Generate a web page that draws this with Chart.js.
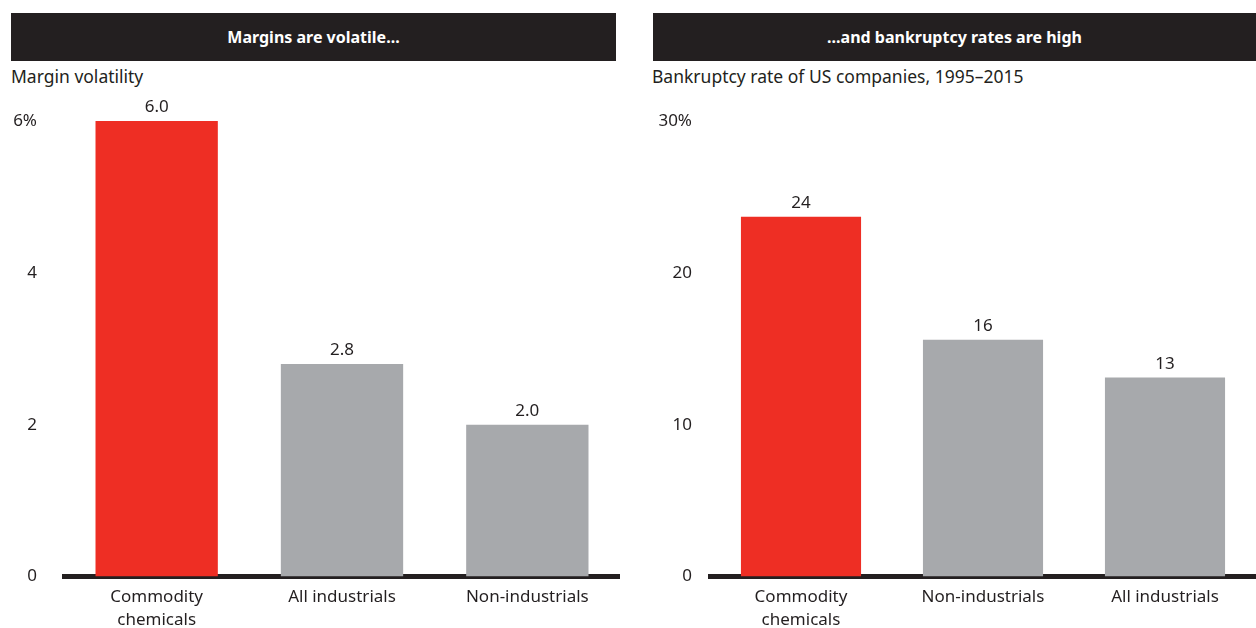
<!DOCTYPE html>
<html>
<head>
<meta charset="utf-8">
<script src="https://cdn.jsdelivr.net/npm/chart.js@4"></script>
<style>
  body { margin: 0; background: #fff; width: 1256px; height: 628px; position: relative; overflow: hidden; font-family: 'Noto Sans', sans-serif; color: #231f20; }
  .header { position: absolute; top: 13px; height: 48px; line-height: 48px; background: #231f20; color: #fff; font-weight: bold; font-size: 16px; text-align: center; }
  .subtitle { position: absolute; top: 64px; font-size: 17.5px; }
  .panel { position: absolute; top: 90px; height: 538px; }
</style>
</head>
<body>
<div class="header" style="left:11px;width:605px">Margins are volatile...</div>
<div class="subtitle" style="left:11px">Margin volatility</div>
<div class="panel" style="left:0;width:620px"><canvas id="marginChart"></canvas></div>

<div class="header" style="left:653px;width:603px">...and bankruptcy rates are high</div>
<div class="subtitle" style="left:652px">Bankruptcy rate of US companies, 1995–2015</div>
<div class="panel" style="left:636px;width:620px"><canvas id="bankruptcyChart"></canvas></div>

<script>
// left panel
const marginCategories = [['Commodity', 'chemicals'], 'All industrials', 'Non-industrials'];
const marginValues = [6.0, 2.8, 2.0];
const marginTicks = [0, 2, 4, 6];

// right panel
const bankruptcyCategories = [['Commodity', 'chemicals'], 'Non-industrials', 'All industrials'];
const bankruptcyValues = [23.7, 15.6, 13.1];
const bankruptcyTicks = [0, 10, 20, 30];

const RED = '#ee2e24';
const GREY = '#a7a9ac';
const INK = '#231f20';

Chart.defaults.font.family = "'Noto Sans', sans-serif";
Chart.defaults.font.size = 17;
Chart.defaults.color = INK;

// value labels above each bar
const valueLabels = {
  id: 'valueLabels',
  afterDatasetsDraw(chart, args, opts) {
    const ctx = chart.ctx;
    const meta = chart.getDatasetMeta(0);
    ctx.save();
    ctx.font = "17px 'Noto Sans', sans-serif";
    ctx.fillStyle = INK;
    ctx.textAlign = 'center';
    ctx.textBaseline = 'bottom';
    meta.data.forEach((bar, i) => {
      const v = chart.data.datasets[0].data[i];
      ctx.fillText(v.toFixed(opts.decimals), bar.x, bar.y - 5);
    });
    ctx.restore();
  }
};

function makeChart(id, categories, values, ticks, yWidth, tickPad, decimals) {
  const max = ticks[ticks.length - 1];
  return new Chart(document.getElementById(id), {
    type: 'bar',
    data: {
      labels: categories,
      datasets: [{
        data: values,
        backgroundColor: values.map((v, i) => i === 0 ? RED : GREY),
        categoryPercentage: 0.66,
        barPercentage: 1
      }]
    },
    options: {
      responsive: true,
      maintainAspectRatio: false,
      animation: false,
      layout: { padding: { top: 31, right: 0, left: 0, bottom: 0 } },
      plugins: {
        legend: { display: false },
        tooltip: { enabled: false },
        valueLabels: { decimals: decimals }
      },
      scales: {
        x: {
          z: 1,
          grid: { drawOnChartArea: false, drawTicks: false, color: 'rgba(0,0,0,0)' },
          border: { display: true, color: INK, width: 5 },
          ticks: { padding: 9, maxRotation: 0, autoSkip: false, font: { lineHeight: 1.35 } },
          afterFit: s => { s.height = 51.5; }
        },
        y: {
          min: 0,
          max: max,
          grid: { display: false, drawTicks: false },
          border: { display: false },
          afterBuildTicks: s => { s.ticks = ticks.map(v => ({ value: v })); },
          ticks: {
            padding: tickPad,
            callback: v => v === max ? v + '%' : v
          },
          afterFit: s => {
            s.width = yWidth;
            s.paddingTop = 0;
            s.paddingBottom = 0;
          }
        }
      }
    },
    plugins: [valueLabels]
  });
}

makeChart('marginChart', marginCategories, marginValues, marginTicks, 64, 27, 1);
makeChart('bankruptcyChart', bankruptcyCategories, bankruptcyValues, bankruptcyTicks, 74, 18, 0);
</script>
</body>
</html>
